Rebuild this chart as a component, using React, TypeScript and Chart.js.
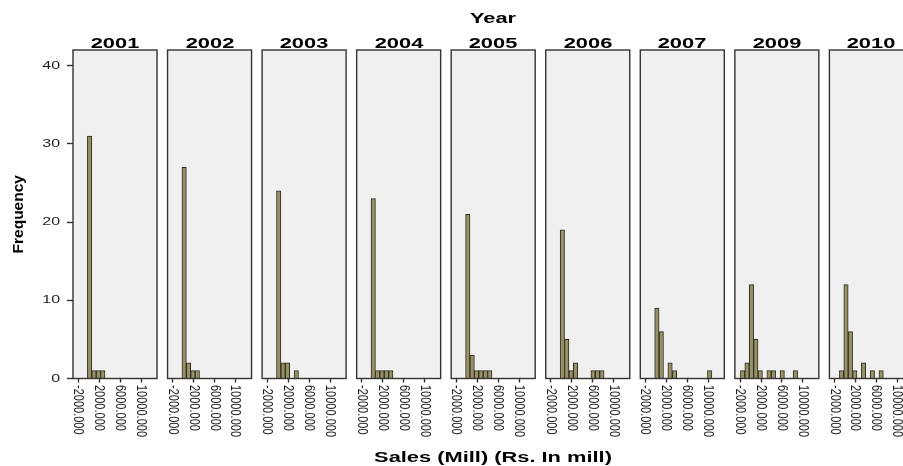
import React, { useEffect, useRef } from "react";
import { Chart, registerables } from "chart.js";

Chart.register(...registerables);
Chart.defaults.font.family = '"Liberation Sans", Arial, sans-serif';

// ---------------- data ----------------
const years = ["2001", "2002", "2003", "2004", "2005", "2006", "2007", "2009", "2010"];
// histogram bin centres (Sales, Rs. mill), bin width 840
const binCenters = [-1510, -670, 170, 1010, 1850, 2690, 3530, 4370, 5210, 6050, 6890, 7730, 8570, 9410, 10250];
const counts2001 = [0, 0, 31, 1, 1, 1, 0, 0, 0, 0, 0, 0, 0, 0, 0];
const counts2002 = [0, 0, 27, 2, 1, 1, 0, 0, 0, 0, 0, 0, 0, 0, 0];
const counts2003 = [0, 0, 24, 2, 2, 0, 1, 0, 0, 0, 0, 0, 0, 0, 0];
const counts2004 = [0, 0, 23, 1, 1, 1, 1, 0, 0, 0, 0, 0, 0, 0, 0];
const counts2005 = [0, 0, 21, 3, 1, 1, 1, 1, 0, 0, 0, 0, 0, 0, 0];
const counts2006 = [0, 0, 19, 5, 1, 2, 0, 0, 0, 1, 1, 1, 0, 0, 0];
const counts2007 = [0, 0, 9, 6, 0, 2, 1, 0, 0, 0, 0, 0, 0, 0, 1];
const counts2009 = [1, 2, 12, 5, 1, 0, 1, 1, 0, 1, 0, 0, 1, 0, 0];
const counts2010 = [0, 1, 12, 6, 1, 0, 2, 0, 1, 0, 1, 0, 0, 0, 0];
const countsByYear = [counts2001, counts2002, counts2003, counts2004, counts2005, counts2006, counts2007, counts2009, counts2010];

const xTickValues = [-2000, 2000, 6000, 10000];
const yTickValues = [0, 10, 20, 30, 40];
const X_MIN = -3000;
const X_MAX = 13050;
const Y_MAX = 42;

// ---------------- layout ----------------
const PANEL_X0 = 73;
const PANEL_PITCH = 94.55;
const PANEL_W = 84;
const PANEL_TOP = 50;
const PANEL_BOTTOM = 378.5;
const PAGE_H = 466;
const SIDE_PAD = 7;
const Y_AXIS_W = 73;
const STRETCH = 1.35;

const FILL = "#979168";
const EDGE = "#2e2c1e";
const AXIS = "#333333";

const panelPlugin = {
  id: "panelBox",
  beforeDraw(chart: any) {
    const { ctx, chartArea } = chart;
    ctx.save();
    ctx.fillStyle = "#f0f0f0";
    ctx.fillRect(chartArea.left, chartArea.top, chartArea.right - chartArea.left, chartArea.bottom - chartArea.top);
    ctx.restore();
  },
  afterDatasetsDraw(chart: any) {
    const { ctx, chartArea } = chart;
    ctx.save();
    ctx.strokeStyle = AXIS;
    ctx.lineWidth = 1.4;
    ctx.strokeRect(chartArea.left, chartArea.top, chartArea.right - chartArea.left, chartArea.bottom - chartArea.top);
    ctx.restore();
  },
};

const tickLabelPlugin = {
  id: "tickLabels",
  afterDraw(chart: any) {
    const ctx = chart.ctx;
    const sx = chart.scales.x;
    ctx.save();
    ctx.fillStyle = "#1e1e1e";
    ctx.font = '11px "Liberation Sans", Arial, sans-serif';
    ctx.textAlign = "left";
    ctx.textBaseline = "middle";
    for (const t of sx.ticks) {
      const px = sx.getPixelForValue(t.value);
      ctx.save();
      ctx.translate(px, sx.top + 6.5);
      ctx.rotate(Math.PI / 2);
      ctx.scale(1, STRETCH);
      ctx.fillText(Number(t.value).toFixed(3), 0, 0);
      ctx.restore();
    }
    const sy = chart.scales.y;
    if (sy.options.display) {
      ctx.textAlign = "right";
      ctx.font = '11px "Liberation Sans", Arial, sans-serif';
      for (const t of sy.ticks) {
        const py = sy.getPixelForValue(t.value);
        ctx.save();
        ctx.translate(sy.right - 13, py);
        ctx.scale(1.45, 1);
        ctx.fillText(String(t.value), 0, 0);
        ctx.restore();
      }
    }
    ctx.restore();
  },
};

function Panel({ index }: { index: number }) {
  const ref = useRef<HTMLCanvasElement>(null);
  const first = index === 0;
  const panelLeft = PANEL_X0 + index * PANEL_PITCH;
  const canvasLeft = first ? 0 : Math.floor(panelLeft) - SIDE_PAD;
  const padLeft = first ? 0 : panelLeft - canvasLeft;
  const canvasW = Math.ceil((first ? Y_AXIS_W : padLeft) + PANEL_W + SIDE_PAD);

  useEffect(() => {
    const counts = countsByYear[index];
    const chart = new Chart(ref.current as HTMLCanvasElement, {
      type: "bar",
      data: {
        datasets: [
          {
            data: binCenters.map((x, i) => ({ x, y: counts[i] })),
            backgroundColor: FILL,
            borderColor: EDGE,
            borderWidth: (c: any) => (c.raw && c.raw.y > 0 ? 1 : 0),
            barPercentage: 1,
            categoryPercentage: 1,
          } as any,
        ],
      },
      options: {
        responsive: false,
        animation: false,
        events: [],
        layout: {
          padding: {
            top: PANEL_TOP,
            left: padLeft,
            right: canvasW - (first ? Y_AXIS_W : padLeft) - PANEL_W,
            bottom: 0,
          },
        },
        plugins: { legend: { display: false }, tooltip: { enabled: false }, title: { display: false } },
        scales: {
          x: {
            type: "linear",
            min: X_MIN,
            max: X_MAX,
            offset: false,
            afterBuildTicks: (s: any) => {
              s.ticks = xTickValues.map((v) => ({ value: v }));
            },
            afterFit: (s: any) => {
              s.height = PAGE_H - PANEL_BOTTOM;
            },
            ticks: { display: false },
            grid: {
              offset: false,
              drawOnChartArea: false,
              drawTicks: true,
              tickLength: 4,
              tickColor: AXIS,
              tickWidth: 1.4,
            },
            border: { display: false },
          },
          y: {
            display: first,
            min: 0,
            max: Y_MAX,
            afterBuildTicks: (s: any) => {
              s.ticks = yTickValues.map((v) => ({ value: v }));
            },
            afterFit: (s: any) => {
              s.width = first ? Y_AXIS_W : 0;
            },
            ticks: { display: false },
            grid: {
              drawOnChartArea: false,
              drawTicks: true,
              tickLength: 6,
              tickColor: AXIS,
              tickWidth: 1.4,
            },
            border: { display: false },
            title: {
              display: true,
              text: "Frequency",
              color: "#000",
              font: { size: 15.5, weight: "bold" },
              padding: { top: 9, bottom: 0 },
            },
          },
        },
      } as any,
      plugins: [panelPlugin, tickLabelPlugin],
    });
    return () => chart.destroy();
  }, [index]);

  return (
    <canvas
      ref={ref}
      width={canvasW}
      height={PAGE_H}
      style={{ position: "absolute", left: canvasLeft, top: 0, width: canvasW, height: PAGE_H }}
    />
  );
}

function StretchText({ text, cx, cy }: { text: string; cx: number; cy: number }) {
  return (
    <div
      style={{
        position: "absolute",
        left: cx,
        top: cy,
        transform: `translate(-50%, -50%) scaleX(1.56)`,
        font: 'bold 14px "Liberation Sans", Arial, sans-serif',
        lineHeight: "14px",
        color: "#000",
        whiteSpace: "nowrap",
        zIndex: 2,
      }}
    >
      {text}
    </div>
  );
}

export default function App() {
  return (
    <div
      style={{
        position: "absolute",
        left: 0,
        top: 0,
        width: 903,
        height: 466,
        overflow: "hidden",
        background: "#fff",
      }}
    >
      <StretchText text="Year" cx={493} cy={18} />
      {years.map((y, i) => (
        <StretchText key={"t" + y} text={y} cx={PANEL_X0 + i * PANEL_PITCH + PANEL_W / 2} cy={42.7} />
      ))}
      {years.map((y, i) => (
        <Panel key={y} index={i} />
      ))}
      <StretchText text="Sales (Mill) (Rs. In mill)" cx={493} cy={456.7} />
    </div>
  );
}
